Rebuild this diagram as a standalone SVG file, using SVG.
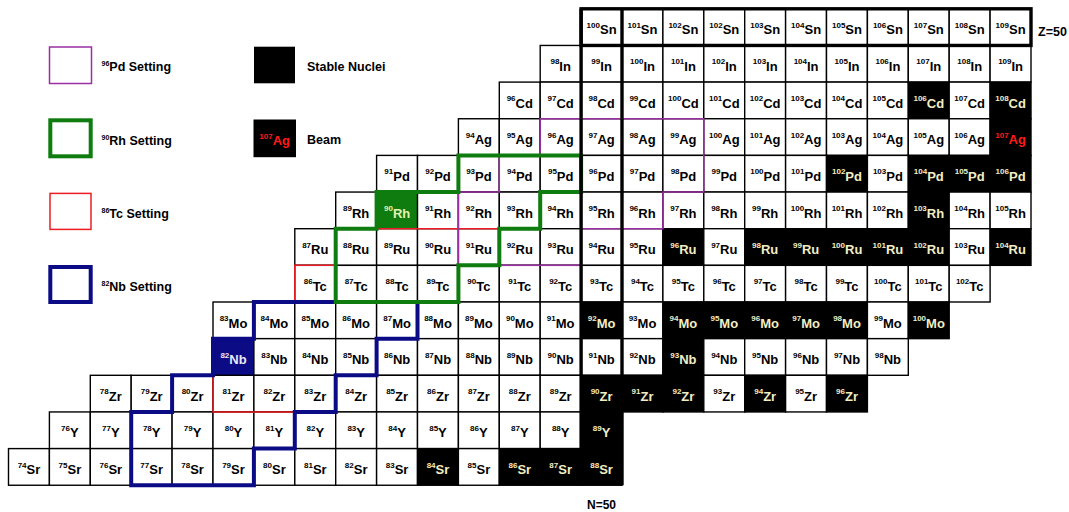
<svg xmlns="http://www.w3.org/2000/svg" width="1069" height="512" viewBox="0 0 1069 512">
<style>
text{font-family:"Liberation Sans",Arial,Helvetica,sans-serif;font-weight:bold}
.row rect{width:40.9px;height:36.65px;fill:#fff;stroke:#000;stroke-width:1.4}
.row text{font-size:13px;text-anchor:middle;fill:#000}
.row tspan:first-child{font-size:8px}
.row .s rect{fill:#000}
.row .s text{fill:#f2eec4}
.row .r text{fill:#ff1a1a}
.row .g rect{fill:#0e7c0e;stroke:#0e7c0e}
.row .g text{fill:#e4f0b4}
.row .b rect{fill:#0b0b86;stroke:#0b0b86}
.row .b text{fill:#e8e8f4}
.leg text{font-size:12.5px;fill:#000}
.leg tspan:first-child{font-size:7px}
.leg .beam{font-size:13px;fill:#ff1a1a;text-anchor:middle}
.leg .beam tspan:first-child{font-size:8px}
.ln{fill:none;stroke-linejoin:miter}
.pd{stroke:#9b2fa3;stroke-width:1.5}
.rh{stroke:#0e7c0e;stroke-width:4}
.tc{stroke:#ee1c24;stroke-width:1.5}
.nb{stroke:#0b0b86;stroke-width:4}
.mag{fill:none;stroke:#000;stroke-width:3.4}
</style>

<!-- legend -->
<g class="leg">
  <g id="leg-pd"><rect class="ln pd" x="49.5" y="47" width="42" height="36.5"/><text x="101.5" y="70.5"><tspan dy="-5">96</tspan><tspan dy="5">Pd Setting</tspan></text></g>
  <g id="leg-rh"><rect class="ln rh" x="50.3" y="120.3" width="40.4" height="36"/><text x="101.5" y="144.5"><tspan dy="-5">90</tspan><tspan dy="5">Rh Setting</tspan></text></g>
  <g id="leg-tc"><rect class="ln tc" x="50" y="193.4" width="41" height="36"/><text x="101.5" y="217.5"><tspan dy="-5">86</tspan><tspan dy="5">Tc Setting</tspan></text></g>
  <g id="leg-nb"><rect class="ln nb" x="50.3" y="267" width="40.4" height="35"/><text x="101.5" y="290.5"><tspan dy="-5">82</tspan><tspan dy="5">Nb Setting</tspan></text></g>
  <g id="leg-stable"><rect x="254" y="46.7" width="41" height="36.6" fill="#000"/><text x="307" y="71">Stable Nuclei</text></g>
  <g id="leg-beam"><rect x="253.5" y="119.5" width="42.5" height="37.7" fill="#000"/><text class="beam" x="274.7" y="145"><tspan dy="-6.5">107</tspan><tspan dy="6.5">Ag</tspan></text><text x="307" y="144">Beam</text></g>
</g>

<!-- chart of nuclides, one row per element -->
<g id="row-Sn" class="row" transform="translate(0 8.8)">
<g id="Sn100" transform="translate(581.1)"><rect/><text x="20.5" y="25.5"><tspan dy="-6.5">100</tspan><tspan dy="6.5">Sn</tspan></text></g>
<g id="Sn101" transform="translate(622)"><rect/><text x="20.5" y="25.5"><tspan dy="-6.5">101</tspan><tspan dy="6.5">Sn</tspan></text></g>
<g id="Sn102" transform="translate(662.9)"><rect/><text x="20.5" y="25.5"><tspan dy="-6.5">102</tspan><tspan dy="6.5">Sn</tspan></text></g>
<g id="Sn102b" transform="translate(703.8)"><rect/><text x="20.5" y="25.5"><tspan dy="-6.5">102</tspan><tspan dy="6.5">Sn</tspan></text></g>
<g id="Sn103" transform="translate(744.7)"><rect/><text x="20.5" y="25.5"><tspan dy="-6.5">103</tspan><tspan dy="6.5">Sn</tspan></text></g>
<g id="Sn104" transform="translate(785.6)"><rect/><text x="20.5" y="25.5"><tspan dy="-6.5">104</tspan><tspan dy="6.5">Sn</tspan></text></g>
<g id="Sn105" transform="translate(826.5)"><rect/><text x="20.5" y="25.5"><tspan dy="-6.5">105</tspan><tspan dy="6.5">Sn</tspan></text></g>
<g id="Sn106" transform="translate(867.4)"><rect/><text x="20.5" y="25.5"><tspan dy="-6.5">106</tspan><tspan dy="6.5">Sn</tspan></text></g>
<g id="Sn107" transform="translate(908.3)"><rect/><text x="20.5" y="25.5"><tspan dy="-6.5">107</tspan><tspan dy="6.5">Sn</tspan></text></g>
<g id="Sn108" transform="translate(949.2)"><rect/><text x="20.5" y="25.5"><tspan dy="-6.5">108</tspan><tspan dy="6.5">Sn</tspan></text></g>
<g id="Sn109" transform="translate(990.1)"><rect/><text x="20.5" y="25.5"><tspan dy="-6.5">109</tspan><tspan dy="6.5">Sn</tspan></text></g>
</g>

<g id="row-In" class="row" transform="translate(0 45.45)">
<g id="In98" transform="translate(540.2)"><rect/><text x="20.5" y="25.5"><tspan dy="-6.5">98</tspan><tspan dy="6.5">In</tspan></text></g>
<g id="In99" transform="translate(581.1)"><rect/><text x="20.5" y="25.5"><tspan dy="-6.5">99</tspan><tspan dy="6.5">In</tspan></text></g>
<g id="In100" transform="translate(622)"><rect/><text x="20.5" y="25.5"><tspan dy="-6.5">100</tspan><tspan dy="6.5">In</tspan></text></g>
<g id="In101" transform="translate(662.9)"><rect/><text x="20.5" y="25.5"><tspan dy="-6.5">101</tspan><tspan dy="6.5">In</tspan></text></g>
<g id="In102" transform="translate(703.8)"><rect/><text x="20.5" y="25.5"><tspan dy="-6.5">102</tspan><tspan dy="6.5">In</tspan></text></g>
<g id="In103" transform="translate(744.7)"><rect/><text x="20.5" y="25.5"><tspan dy="-6.5">103</tspan><tspan dy="6.5">In</tspan></text></g>
<g id="In104" transform="translate(785.6)"><rect/><text x="20.5" y="25.5"><tspan dy="-6.5">104</tspan><tspan dy="6.5">In</tspan></text></g>
<g id="In105" transform="translate(826.5)"><rect/><text x="20.5" y="25.5"><tspan dy="-6.5">105</tspan><tspan dy="6.5">In</tspan></text></g>
<g id="In106" transform="translate(867.4)"><rect/><text x="20.5" y="25.5"><tspan dy="-6.5">106</tspan><tspan dy="6.5">In</tspan></text></g>
<g id="In107" transform="translate(908.3)"><rect/><text x="20.5" y="25.5"><tspan dy="-6.5">107</tspan><tspan dy="6.5">In</tspan></text></g>
<g id="In108" transform="translate(949.2)"><rect/><text x="20.5" y="25.5"><tspan dy="-6.5">108</tspan><tspan dy="6.5">In</tspan></text></g>
<g id="In109" transform="translate(990.1)"><rect/><text x="20.5" y="25.5"><tspan dy="-6.5">109</tspan><tspan dy="6.5">In</tspan></text></g>
</g>

<g id="row-Cd" class="row" transform="translate(0 82.1)">
<g id="Cd96" transform="translate(499.3)"><rect/><text x="20.5" y="25.5"><tspan dy="-6.5">96</tspan><tspan dy="6.5">Cd</tspan></text></g>
<g id="Cd97" transform="translate(540.2)"><rect/><text x="20.5" y="25.5"><tspan dy="-6.5">97</tspan><tspan dy="6.5">Cd</tspan></text></g>
<g id="Cd98" transform="translate(581.1)"><rect/><text x="20.5" y="25.5"><tspan dy="-6.5">98</tspan><tspan dy="6.5">Cd</tspan></text></g>
<g id="Cd99" transform="translate(622)"><rect/><text x="20.5" y="25.5"><tspan dy="-6.5">99</tspan><tspan dy="6.5">Cd</tspan></text></g>
<g id="Cd100" transform="translate(662.9)"><rect/><text x="20.5" y="25.5"><tspan dy="-6.5">100</tspan><tspan dy="6.5">Cd</tspan></text></g>
<g id="Cd101" transform="translate(703.8)"><rect/><text x="20.5" y="25.5"><tspan dy="-6.5">101</tspan><tspan dy="6.5">Cd</tspan></text></g>
<g id="Cd102" transform="translate(744.7)"><rect/><text x="20.5" y="25.5"><tspan dy="-6.5">102</tspan><tspan dy="6.5">Cd</tspan></text></g>
<g id="Cd103" transform="translate(785.6)"><rect/><text x="20.5" y="25.5"><tspan dy="-6.5">103</tspan><tspan dy="6.5">Cd</tspan></text></g>
<g id="Cd104" transform="translate(826.5)"><rect/><text x="20.5" y="25.5"><tspan dy="-6.5">104</tspan><tspan dy="6.5">Cd</tspan></text></g>
<g id="Cd105" transform="translate(867.4)"><rect/><text x="20.5" y="25.5"><tspan dy="-6.5">105</tspan><tspan dy="6.5">Cd</tspan></text></g>
<g id="Cd106" class="s" transform="translate(908.3)"><rect/><text x="20.5" y="25.5"><tspan dy="-6.5">106</tspan><tspan dy="6.5">Cd</tspan></text></g>
<g id="Cd107" transform="translate(949.2)"><rect/><text x="20.5" y="25.5"><tspan dy="-6.5">107</tspan><tspan dy="6.5">Cd</tspan></text></g>
<g id="Cd108" class="s" transform="translate(990.1)"><rect/><text x="20.5" y="25.5"><tspan dy="-6.5">108</tspan><tspan dy="6.5">Cd</tspan></text></g>
</g>

<g id="row-Ag" class="row" transform="translate(0 118.75)">
<g id="Ag94" transform="translate(458.4)"><rect/><text x="20.5" y="25.5"><tspan dy="-6.5">94</tspan><tspan dy="6.5">Ag</tspan></text></g>
<g id="Ag95" transform="translate(499.3)"><rect/><text x="20.5" y="25.5"><tspan dy="-6.5">95</tspan><tspan dy="6.5">Ag</tspan></text></g>
<g id="Ag96" transform="translate(540.2)"><rect/><text x="20.5" y="25.5"><tspan dy="-6.5">96</tspan><tspan dy="6.5">Ag</tspan></text></g>
<g id="Ag97" transform="translate(581.1)"><rect/><text x="20.5" y="25.5"><tspan dy="-6.5">97</tspan><tspan dy="6.5">Ag</tspan></text></g>
<g id="Ag98" transform="translate(622)"><rect/><text x="20.5" y="25.5"><tspan dy="-6.5">98</tspan><tspan dy="6.5">Ag</tspan></text></g>
<g id="Ag99" transform="translate(662.9)"><rect/><text x="20.5" y="25.5"><tspan dy="-6.5">99</tspan><tspan dy="6.5">Ag</tspan></text></g>
<g id="Ag100" transform="translate(703.8)"><rect/><text x="20.5" y="25.5"><tspan dy="-6.5">100</tspan><tspan dy="6.5">Ag</tspan></text></g>
<g id="Ag101" transform="translate(744.7)"><rect/><text x="20.5" y="25.5"><tspan dy="-6.5">101</tspan><tspan dy="6.5">Ag</tspan></text></g>
<g id="Ag102" transform="translate(785.6)"><rect/><text x="20.5" y="25.5"><tspan dy="-6.5">102</tspan><tspan dy="6.5">Ag</tspan></text></g>
<g id="Ag103" transform="translate(826.5)"><rect/><text x="20.5" y="25.5"><tspan dy="-6.5">103</tspan><tspan dy="6.5">Ag</tspan></text></g>
<g id="Ag104" transform="translate(867.4)"><rect/><text x="20.5" y="25.5"><tspan dy="-6.5">104</tspan><tspan dy="6.5">Ag</tspan></text></g>
<g id="Ag105" transform="translate(908.3)"><rect/><text x="20.5" y="25.5"><tspan dy="-6.5">105</tspan><tspan dy="6.5">Ag</tspan></text></g>
<g id="Ag106" transform="translate(949.2)"><rect/><text x="20.5" y="25.5"><tspan dy="-6.5">106</tspan><tspan dy="6.5">Ag</tspan></text></g>
<g id="Ag107" class="s r" transform="translate(990.1)"><rect/><text x="20.5" y="25.5"><tspan dy="-6.5">107</tspan><tspan dy="6.5">Ag</tspan></text></g>
</g>

<g id="row-Pd" class="row" transform="translate(0 155.4)">
<g id="Pd91" transform="translate(376.6)"><rect/><text x="20.5" y="25.5"><tspan dy="-6.5">91</tspan><tspan dy="6.5">Pd</tspan></text></g>
<g id="Pd92" transform="translate(417.5)"><rect/><text x="20.5" y="25.5"><tspan dy="-6.5">92</tspan><tspan dy="6.5">Pd</tspan></text></g>
<g id="Pd93" transform="translate(458.4)"><rect/><text x="20.5" y="25.5"><tspan dy="-6.5">93</tspan><tspan dy="6.5">Pd</tspan></text></g>
<g id="Pd94" transform="translate(499.3)"><rect/><text x="20.5" y="25.5"><tspan dy="-6.5">94</tspan><tspan dy="6.5">Pd</tspan></text></g>
<g id="Pd95" transform="translate(540.2)"><rect/><text x="20.5" y="25.5"><tspan dy="-6.5">95</tspan><tspan dy="6.5">Pd</tspan></text></g>
<g id="Pd96" transform="translate(581.1)"><rect/><text x="20.5" y="25.5"><tspan dy="-6.5">96</tspan><tspan dy="6.5">Pd</tspan></text></g>
<g id="Pd97" transform="translate(622)"><rect/><text x="20.5" y="25.5"><tspan dy="-6.5">97</tspan><tspan dy="6.5">Pd</tspan></text></g>
<g id="Pd98" transform="translate(662.9)"><rect/><text x="20.5" y="25.5"><tspan dy="-6.5">98</tspan><tspan dy="6.5">Pd</tspan></text></g>
<g id="Pd99" transform="translate(703.8)"><rect/><text x="20.5" y="25.5"><tspan dy="-6.5">99</tspan><tspan dy="6.5">Pd</tspan></text></g>
<g id="Pd100" transform="translate(744.7)"><rect/><text x="20.5" y="25.5"><tspan dy="-6.5">100</tspan><tspan dy="6.5">Pd</tspan></text></g>
<g id="Pd101" transform="translate(785.6)"><rect/><text x="20.5" y="25.5"><tspan dy="-6.5">101</tspan><tspan dy="6.5">Pd</tspan></text></g>
<g id="Pd102" class="s" transform="translate(826.5)"><rect/><text x="20.5" y="25.5"><tspan dy="-6.5">102</tspan><tspan dy="6.5">Pd</tspan></text></g>
<g id="Pd103" transform="translate(867.4)"><rect/><text x="20.5" y="25.5"><tspan dy="-6.5">103</tspan><tspan dy="6.5">Pd</tspan></text></g>
<g id="Pd104" class="s" transform="translate(908.3)"><rect/><text x="20.5" y="25.5"><tspan dy="-6.5">104</tspan><tspan dy="6.5">Pd</tspan></text></g>
<g id="Pd105" class="s" transform="translate(949.2)"><rect/><text x="20.5" y="25.5"><tspan dy="-6.5">105</tspan><tspan dy="6.5">Pd</tspan></text></g>
<g id="Pd106" class="s" transform="translate(990.1)"><rect/><text x="20.5" y="25.5"><tspan dy="-6.5">106</tspan><tspan dy="6.5">Pd</tspan></text></g>
</g>

<g id="row-Rh" class="row" transform="translate(0 192.05)">
<g id="Rh89" transform="translate(335.7)"><rect/><text x="20.5" y="25.5"><tspan dy="-6.5">89</tspan><tspan dy="6.5">Rh</tspan></text></g>
<g id="Rh90" class="g" transform="translate(376.6)"><rect/><text x="20.5" y="25.5"><tspan dy="-6.5">90</tspan><tspan dy="6.5">Rh</tspan></text></g>
<g id="Rh91" transform="translate(417.5)"><rect/><text x="20.5" y="25.5"><tspan dy="-6.5">91</tspan><tspan dy="6.5">Rh</tspan></text></g>
<g id="Rh92" transform="translate(458.4)"><rect/><text x="20.5" y="25.5"><tspan dy="-6.5">92</tspan><tspan dy="6.5">Rh</tspan></text></g>
<g id="Rh93" transform="translate(499.3)"><rect/><text x="20.5" y="25.5"><tspan dy="-6.5">93</tspan><tspan dy="6.5">Rh</tspan></text></g>
<g id="Rh94" transform="translate(540.2)"><rect/><text x="20.5" y="25.5"><tspan dy="-6.5">94</tspan><tspan dy="6.5">Rh</tspan></text></g>
<g id="Rh95" transform="translate(581.1)"><rect/><text x="20.5" y="25.5"><tspan dy="-6.5">95</tspan><tspan dy="6.5">Rh</tspan></text></g>
<g id="Rh96" transform="translate(622)"><rect/><text x="20.5" y="25.5"><tspan dy="-6.5">96</tspan><tspan dy="6.5">Rh</tspan></text></g>
<g id="Rh97" transform="translate(662.9)"><rect/><text x="20.5" y="25.5"><tspan dy="-6.5">97</tspan><tspan dy="6.5">Rh</tspan></text></g>
<g id="Rh98" transform="translate(703.8)"><rect/><text x="20.5" y="25.5"><tspan dy="-6.5">98</tspan><tspan dy="6.5">Rh</tspan></text></g>
<g id="Rh99" transform="translate(744.7)"><rect/><text x="20.5" y="25.5"><tspan dy="-6.5">99</tspan><tspan dy="6.5">Rh</tspan></text></g>
<g id="Rh100" transform="translate(785.6)"><rect/><text x="20.5" y="25.5"><tspan dy="-6.5">100</tspan><tspan dy="6.5">Rh</tspan></text></g>
<g id="Rh101" transform="translate(826.5)"><rect/><text x="20.5" y="25.5"><tspan dy="-6.5">101</tspan><tspan dy="6.5">Rh</tspan></text></g>
<g id="Rh102" transform="translate(867.4)"><rect/><text x="20.5" y="25.5"><tspan dy="-6.5">102</tspan><tspan dy="6.5">Rh</tspan></text></g>
<g id="Rh103" class="s" transform="translate(908.3)"><rect/><text x="20.5" y="25.5"><tspan dy="-6.5">103</tspan><tspan dy="6.5">Rh</tspan></text></g>
<g id="Rh104" transform="translate(949.2)"><rect/><text x="20.5" y="25.5"><tspan dy="-6.5">104</tspan><tspan dy="6.5">Rh</tspan></text></g>
<g id="Rh105" transform="translate(990.1)"><rect/><text x="20.5" y="25.5"><tspan dy="-6.5">105</tspan><tspan dy="6.5">Rh</tspan></text></g>
</g>

<g id="row-Ru" class="row" transform="translate(0 228.7)">
<g id="Ru87" transform="translate(294.8)"><rect/><text x="20.5" y="25.5"><tspan dy="-6.5">87</tspan><tspan dy="6.5">Ru</tspan></text></g>
<g id="Ru88" transform="translate(335.7)"><rect/><text x="20.5" y="25.5"><tspan dy="-6.5">88</tspan><tspan dy="6.5">Ru</tspan></text></g>
<g id="Ru89" transform="translate(376.6)"><rect/><text x="20.5" y="25.5"><tspan dy="-6.5">89</tspan><tspan dy="6.5">Ru</tspan></text></g>
<g id="Ru90" transform="translate(417.5)"><rect/><text x="20.5" y="25.5"><tspan dy="-6.5">90</tspan><tspan dy="6.5">Ru</tspan></text></g>
<g id="Ru91" transform="translate(458.4)"><rect/><text x="20.5" y="25.5"><tspan dy="-6.5">91</tspan><tspan dy="6.5">Ru</tspan></text></g>
<g id="Ru92" transform="translate(499.3)"><rect/><text x="20.5" y="25.5"><tspan dy="-6.5">92</tspan><tspan dy="6.5">Ru</tspan></text></g>
<g id="Ru93" transform="translate(540.2)"><rect/><text x="20.5" y="25.5"><tspan dy="-6.5">93</tspan><tspan dy="6.5">Ru</tspan></text></g>
<g id="Ru94" transform="translate(581.1)"><rect/><text x="20.5" y="25.5"><tspan dy="-6.5">94</tspan><tspan dy="6.5">Ru</tspan></text></g>
<g id="Ru95" transform="translate(622)"><rect/><text x="20.5" y="25.5"><tspan dy="-6.5">95</tspan><tspan dy="6.5">Ru</tspan></text></g>
<g id="Ru96" class="s" transform="translate(662.9)"><rect/><text x="20.5" y="25.5"><tspan dy="-6.5">96</tspan><tspan dy="6.5">Ru</tspan></text></g>
<g id="Ru97" transform="translate(703.8)"><rect/><text x="20.5" y="25.5"><tspan dy="-6.5">97</tspan><tspan dy="6.5">Ru</tspan></text></g>
<g id="Ru98" class="s" transform="translate(744.7)"><rect/><text x="20.5" y="25.5"><tspan dy="-6.5">98</tspan><tspan dy="6.5">Ru</tspan></text></g>
<g id="Ru99" class="s" transform="translate(785.6)"><rect/><text x="20.5" y="25.5"><tspan dy="-6.5">99</tspan><tspan dy="6.5">Ru</tspan></text></g>
<g id="Ru100" class="s" transform="translate(826.5)"><rect/><text x="20.5" y="25.5"><tspan dy="-6.5">100</tspan><tspan dy="6.5">Ru</tspan></text></g>
<g id="Ru101" class="s" transform="translate(867.4)"><rect/><text x="20.5" y="25.5"><tspan dy="-6.5">101</tspan><tspan dy="6.5">Ru</tspan></text></g>
<g id="Ru102" class="s" transform="translate(908.3)"><rect/><text x="20.5" y="25.5"><tspan dy="-6.5">102</tspan><tspan dy="6.5">Ru</tspan></text></g>
<g id="Ru103" transform="translate(949.2)"><rect/><text x="20.5" y="25.5"><tspan dy="-6.5">103</tspan><tspan dy="6.5">Ru</tspan></text></g>
<g id="Ru104" class="s" transform="translate(990.1)"><rect/><text x="20.5" y="25.5"><tspan dy="-6.5">104</tspan><tspan dy="6.5">Ru</tspan></text></g>
</g>

<g id="row-Tc" class="row" transform="translate(0 265.35)">
<g id="Tc86" transform="translate(294.8)"><rect/><text x="20.5" y="25.5"><tspan dy="-6.5">86</tspan><tspan dy="6.5">Tc</tspan></text></g>
<g id="Tc87" transform="translate(335.7)"><rect/><text x="20.5" y="25.5"><tspan dy="-6.5">87</tspan><tspan dy="6.5">Tc</tspan></text></g>
<g id="Tc88" transform="translate(376.6)"><rect/><text x="20.5" y="25.5"><tspan dy="-6.5">88</tspan><tspan dy="6.5">Tc</tspan></text></g>
<g id="Tc89" transform="translate(417.5)"><rect/><text x="20.5" y="25.5"><tspan dy="-6.5">89</tspan><tspan dy="6.5">Tc</tspan></text></g>
<g id="Tc90" transform="translate(458.4)"><rect/><text x="20.5" y="25.5"><tspan dy="-6.5">90</tspan><tspan dy="6.5">Tc</tspan></text></g>
<g id="Tc91" transform="translate(499.3)"><rect/><text x="20.5" y="25.5"><tspan dy="-6.5">91</tspan><tspan dy="6.5">Tc</tspan></text></g>
<g id="Tc92" transform="translate(540.2)"><rect/><text x="20.5" y="25.5"><tspan dy="-6.5">92</tspan><tspan dy="6.5">Tc</tspan></text></g>
<g id="Tc93" transform="translate(581.1)"><rect/><text x="20.5" y="25.5"><tspan dy="-6.5">93</tspan><tspan dy="6.5">Tc</tspan></text></g>
<g id="Tc94" transform="translate(622)"><rect/><text x="20.5" y="25.5"><tspan dy="-6.5">94</tspan><tspan dy="6.5">Tc</tspan></text></g>
<g id="Tc95" transform="translate(662.9)"><rect/><text x="20.5" y="25.5"><tspan dy="-6.5">95</tspan><tspan dy="6.5">Tc</tspan></text></g>
<g id="Tc96" transform="translate(703.8)"><rect/><text x="20.5" y="25.5"><tspan dy="-6.5">96</tspan><tspan dy="6.5">Tc</tspan></text></g>
<g id="Tc97" transform="translate(744.7)"><rect/><text x="20.5" y="25.5"><tspan dy="-6.5">97</tspan><tspan dy="6.5">Tc</tspan></text></g>
<g id="Tc98" transform="translate(785.6)"><rect/><text x="20.5" y="25.5"><tspan dy="-6.5">98</tspan><tspan dy="6.5">Tc</tspan></text></g>
<g id="Tc99" transform="translate(826.5)"><rect/><text x="20.5" y="25.5"><tspan dy="-6.5">99</tspan><tspan dy="6.5">Tc</tspan></text></g>
<g id="Tc100" transform="translate(867.4)"><rect/><text x="20.5" y="25.5"><tspan dy="-6.5">100</tspan><tspan dy="6.5">Tc</tspan></text></g>
<g id="Tc101" transform="translate(908.3)"><rect/><text x="20.5" y="25.5"><tspan dy="-6.5">101</tspan><tspan dy="6.5">Tc</tspan></text></g>
<g id="Tc102" transform="translate(949.2)"><rect/><text x="20.5" y="25.5"><tspan dy="-6.5">102</tspan><tspan dy="6.5">Tc</tspan></text></g>
</g>

<g id="row-Mo" class="row" transform="translate(0 302)">
<g id="Mo83" transform="translate(213)"><rect/><text x="20.5" y="25.5"><tspan dy="-6.5">83</tspan><tspan dy="6.5">Mo</tspan></text></g>
<g id="Mo84" transform="translate(253.9)"><rect/><text x="20.5" y="25.5"><tspan dy="-6.5">84</tspan><tspan dy="6.5">Mo</tspan></text></g>
<g id="Mo85" transform="translate(294.8)"><rect/><text x="20.5" y="25.5"><tspan dy="-6.5">85</tspan><tspan dy="6.5">Mo</tspan></text></g>
<g id="Mo86" transform="translate(335.7)"><rect/><text x="20.5" y="25.5"><tspan dy="-6.5">86</tspan><tspan dy="6.5">Mo</tspan></text></g>
<g id="Mo87" transform="translate(376.6)"><rect/><text x="20.5" y="25.5"><tspan dy="-6.5">87</tspan><tspan dy="6.5">Mo</tspan></text></g>
<g id="Mo88" transform="translate(417.5)"><rect/><text x="20.5" y="25.5"><tspan dy="-6.5">88</tspan><tspan dy="6.5">Mo</tspan></text></g>
<g id="Mo89" transform="translate(458.4)"><rect/><text x="20.5" y="25.5"><tspan dy="-6.5">89</tspan><tspan dy="6.5">Mo</tspan></text></g>
<g id="Mo90" transform="translate(499.3)"><rect/><text x="20.5" y="25.5"><tspan dy="-6.5">90</tspan><tspan dy="6.5">Mo</tspan></text></g>
<g id="Mo91" transform="translate(540.2)"><rect/><text x="20.5" y="25.5"><tspan dy="-6.5">91</tspan><tspan dy="6.5">Mo</tspan></text></g>
<g id="Mo92" class="s" transform="translate(581.1)"><rect/><text x="20.5" y="25.5"><tspan dy="-6.5">92</tspan><tspan dy="6.5">Mo</tspan></text></g>
<g id="Mo93" transform="translate(622)"><rect/><text x="20.5" y="25.5"><tspan dy="-6.5">93</tspan><tspan dy="6.5">Mo</tspan></text></g>
<g id="Mo94" class="s" transform="translate(662.9)"><rect/><text x="20.5" y="25.5"><tspan dy="-6.5">94</tspan><tspan dy="6.5">Mo</tspan></text></g>
<g id="Mo95" class="s" transform="translate(703.8)"><rect/><text x="20.5" y="25.5"><tspan dy="-6.5">95</tspan><tspan dy="6.5">Mo</tspan></text></g>
<g id="Mo96" class="s" transform="translate(744.7)"><rect/><text x="20.5" y="25.5"><tspan dy="-6.5">96</tspan><tspan dy="6.5">Mo</tspan></text></g>
<g id="Mo97" class="s" transform="translate(785.6)"><rect/><text x="20.5" y="25.5"><tspan dy="-6.5">97</tspan><tspan dy="6.5">Mo</tspan></text></g>
<g id="Mo98" class="s" transform="translate(826.5)"><rect/><text x="20.5" y="25.5"><tspan dy="-6.5">98</tspan><tspan dy="6.5">Mo</tspan></text></g>
<g id="Mo99" transform="translate(867.4)"><rect/><text x="20.5" y="25.5"><tspan dy="-6.5">99</tspan><tspan dy="6.5">Mo</tspan></text></g>
<g id="Mo100" class="s" transform="translate(908.3)"><rect/><text x="20.5" y="25.5"><tspan dy="-6.5">100</tspan><tspan dy="6.5">Mo</tspan></text></g>
</g>

<g id="row-Nb" class="row" transform="translate(0 338.65)">
<g id="Nb82" class="b" transform="translate(213)"><rect/><text x="20.5" y="25.5"><tspan dy="-6.5">82</tspan><tspan dy="6.5">Nb</tspan></text></g>
<g id="Nb83" transform="translate(253.9)"><rect/><text x="20.5" y="25.5"><tspan dy="-6.5">83</tspan><tspan dy="6.5">Nb</tspan></text></g>
<g id="Nb84" transform="translate(294.8)"><rect/><text x="20.5" y="25.5"><tspan dy="-6.5">84</tspan><tspan dy="6.5">Nb</tspan></text></g>
<g id="Nb85" transform="translate(335.7)"><rect/><text x="20.5" y="25.5"><tspan dy="-6.5">85</tspan><tspan dy="6.5">Nb</tspan></text></g>
<g id="Nb86" transform="translate(376.6)"><rect/><text x="20.5" y="25.5"><tspan dy="-6.5">86</tspan><tspan dy="6.5">Nb</tspan></text></g>
<g id="Nb87" transform="translate(417.5)"><rect/><text x="20.5" y="25.5"><tspan dy="-6.5">87</tspan><tspan dy="6.5">Nb</tspan></text></g>
<g id="Nb88" transform="translate(458.4)"><rect/><text x="20.5" y="25.5"><tspan dy="-6.5">88</tspan><tspan dy="6.5">Nb</tspan></text></g>
<g id="Nb89" transform="translate(499.3)"><rect/><text x="20.5" y="25.5"><tspan dy="-6.5">89</tspan><tspan dy="6.5">Nb</tspan></text></g>
<g id="Nb90" transform="translate(540.2)"><rect/><text x="20.5" y="25.5"><tspan dy="-6.5">90</tspan><tspan dy="6.5">Nb</tspan></text></g>
<g id="Nb91" transform="translate(581.1)"><rect/><text x="20.5" y="25.5"><tspan dy="-6.5">91</tspan><tspan dy="6.5">Nb</tspan></text></g>
<g id="Nb92" transform="translate(622)"><rect/><text x="20.5" y="25.5"><tspan dy="-6.5">92</tspan><tspan dy="6.5">Nb</tspan></text></g>
<g id="Nb93" class="s" transform="translate(662.9)"><rect/><text x="20.5" y="25.5"><tspan dy="-6.5">93</tspan><tspan dy="6.5">Nb</tspan></text></g>
<g id="Nb94" transform="translate(703.8)"><rect/><text x="20.5" y="25.5"><tspan dy="-6.5">94</tspan><tspan dy="6.5">Nb</tspan></text></g>
<g id="Nb95" transform="translate(744.7)"><rect/><text x="20.5" y="25.5"><tspan dy="-6.5">95</tspan><tspan dy="6.5">Nb</tspan></text></g>
<g id="Nb96" transform="translate(785.6)"><rect/><text x="20.5" y="25.5"><tspan dy="-6.5">96</tspan><tspan dy="6.5">Nb</tspan></text></g>
<g id="Nb97" transform="translate(826.5)"><rect/><text x="20.5" y="25.5"><tspan dy="-6.5">97</tspan><tspan dy="6.5">Nb</tspan></text></g>
<g id="Nb98" transform="translate(867.4)"><rect/><text x="20.5" y="25.5"><tspan dy="-6.5">98</tspan><tspan dy="6.5">Nb</tspan></text></g>
</g>

<g id="row-Zr" class="row" transform="translate(0 375.3)">
<g id="Zr78" transform="translate(90.3)"><rect/><text x="20.5" y="25.5"><tspan dy="-6.5">78</tspan><tspan dy="6.5">Zr</tspan></text></g>
<g id="Zr79" transform="translate(131.2)"><rect/><text x="20.5" y="25.5"><tspan dy="-6.5">79</tspan><tspan dy="6.5">Zr</tspan></text></g>
<g id="Zr80" transform="translate(172.1)"><rect/><text x="20.5" y="25.5"><tspan dy="-6.5">80</tspan><tspan dy="6.5">Zr</tspan></text></g>
<g id="Zr81" transform="translate(213)"><rect/><text x="20.5" y="25.5"><tspan dy="-6.5">81</tspan><tspan dy="6.5">Zr</tspan></text></g>
<g id="Zr82" transform="translate(253.9)"><rect/><text x="20.5" y="25.5"><tspan dy="-6.5">82</tspan><tspan dy="6.5">Zr</tspan></text></g>
<g id="Zr83" transform="translate(294.8)"><rect/><text x="20.5" y="25.5"><tspan dy="-6.5">83</tspan><tspan dy="6.5">Zr</tspan></text></g>
<g id="Zr84" transform="translate(335.7)"><rect/><text x="20.5" y="25.5"><tspan dy="-6.5">84</tspan><tspan dy="6.5">Zr</tspan></text></g>
<g id="Zr85" transform="translate(376.6)"><rect/><text x="20.5" y="25.5"><tspan dy="-6.5">85</tspan><tspan dy="6.5">Zr</tspan></text></g>
<g id="Zr86" transform="translate(417.5)"><rect/><text x="20.5" y="25.5"><tspan dy="-6.5">86</tspan><tspan dy="6.5">Zr</tspan></text></g>
<g id="Zr87" transform="translate(458.4)"><rect/><text x="20.5" y="25.5"><tspan dy="-6.5">87</tspan><tspan dy="6.5">Zr</tspan></text></g>
<g id="Zr88" transform="translate(499.3)"><rect/><text x="20.5" y="25.5"><tspan dy="-6.5">88</tspan><tspan dy="6.5">Zr</tspan></text></g>
<g id="Zr89" transform="translate(540.2)"><rect/><text x="20.5" y="25.5"><tspan dy="-6.5">89</tspan><tspan dy="6.5">Zr</tspan></text></g>
<g id="Zr90" class="s" transform="translate(581.1)"><rect/><text x="20.5" y="25.5"><tspan dy="-6.5">90</tspan><tspan dy="6.5">Zr</tspan></text></g>
<g id="Zr91" class="s" transform="translate(622)"><rect/><text x="20.5" y="25.5"><tspan dy="-6.5">91</tspan><tspan dy="6.5">Zr</tspan></text></g>
<g id="Zr92" class="s" transform="translate(662.9)"><rect/><text x="20.5" y="25.5"><tspan dy="-6.5">92</tspan><tspan dy="6.5">Zr</tspan></text></g>
<g id="Zr93" transform="translate(703.8)"><rect/><text x="20.5" y="25.5"><tspan dy="-6.5">93</tspan><tspan dy="6.5">Zr</tspan></text></g>
<g id="Zr94" class="s" transform="translate(744.7)"><rect/><text x="20.5" y="25.5"><tspan dy="-6.5">94</tspan><tspan dy="6.5">Zr</tspan></text></g>
<g id="Zr95" transform="translate(785.6)"><rect/><text x="20.5" y="25.5"><tspan dy="-6.5">95</tspan><tspan dy="6.5">Zr</tspan></text></g>
<g id="Zr96" class="s" transform="translate(826.5)"><rect/><text x="20.5" y="25.5"><tspan dy="-6.5">96</tspan><tspan dy="6.5">Zr</tspan></text></g>
</g>

<g id="row-Y" class="row" transform="translate(0 411.95)">
<g id="Y76" transform="translate(49.4)"><rect/><text x="20.5" y="25.5"><tspan dy="-6.5">76</tspan><tspan dy="6.5">Y</tspan></text></g>
<g id="Y77" transform="translate(90.3)"><rect/><text x="20.5" y="25.5"><tspan dy="-6.5">77</tspan><tspan dy="6.5">Y</tspan></text></g>
<g id="Y78" transform="translate(131.2)"><rect/><text x="20.5" y="25.5"><tspan dy="-6.5">78</tspan><tspan dy="6.5">Y</tspan></text></g>
<g id="Y79" transform="translate(172.1)"><rect/><text x="20.5" y="25.5"><tspan dy="-6.5">79</tspan><tspan dy="6.5">Y</tspan></text></g>
<g id="Y80" transform="translate(213)"><rect/><text x="20.5" y="25.5"><tspan dy="-6.5">80</tspan><tspan dy="6.5">Y</tspan></text></g>
<g id="Y81" transform="translate(253.9)"><rect/><text x="20.5" y="25.5"><tspan dy="-6.5">81</tspan><tspan dy="6.5">Y</tspan></text></g>
<g id="Y82" transform="translate(294.8)"><rect/><text x="20.5" y="25.5"><tspan dy="-6.5">82</tspan><tspan dy="6.5">Y</tspan></text></g>
<g id="Y83" transform="translate(335.7)"><rect/><text x="20.5" y="25.5"><tspan dy="-6.5">83</tspan><tspan dy="6.5">Y</tspan></text></g>
<g id="Y84" transform="translate(376.6)"><rect/><text x="20.5" y="25.5"><tspan dy="-6.5">84</tspan><tspan dy="6.5">Y</tspan></text></g>
<g id="Y85" transform="translate(417.5)"><rect/><text x="20.5" y="25.5"><tspan dy="-6.5">85</tspan><tspan dy="6.5">Y</tspan></text></g>
<g id="Y86" transform="translate(458.4)"><rect/><text x="20.5" y="25.5"><tspan dy="-6.5">86</tspan><tspan dy="6.5">Y</tspan></text></g>
<g id="Y87" transform="translate(499.3)"><rect/><text x="20.5" y="25.5"><tspan dy="-6.5">87</tspan><tspan dy="6.5">Y</tspan></text></g>
<g id="Y88" transform="translate(540.2)"><rect/><text x="20.5" y="25.5"><tspan dy="-6.5">88</tspan><tspan dy="6.5">Y</tspan></text></g>
<g id="Y89" class="s" transform="translate(581.1)"><rect/><text x="20.5" y="25.5"><tspan dy="-6.5">89</tspan><tspan dy="6.5">Y</tspan></text></g>
</g>

<g id="row-Sr" class="row" transform="translate(0 448.6)">
<g id="Sr74" transform="translate(8.5)"><rect/><text x="20.5" y="25.5"><tspan dy="-6.5">74</tspan><tspan dy="6.5">Sr</tspan></text></g>
<g id="Sr75" transform="translate(49.4)"><rect/><text x="20.5" y="25.5"><tspan dy="-6.5">75</tspan><tspan dy="6.5">Sr</tspan></text></g>
<g id="Sr76" transform="translate(90.3)"><rect/><text x="20.5" y="25.5"><tspan dy="-6.5">76</tspan><tspan dy="6.5">Sr</tspan></text></g>
<g id="Sr77" transform="translate(131.2)"><rect/><text x="20.5" y="25.5"><tspan dy="-6.5">77</tspan><tspan dy="6.5">Sr</tspan></text></g>
<g id="Sr78" transform="translate(172.1)"><rect/><text x="20.5" y="25.5"><tspan dy="-6.5">78</tspan><tspan dy="6.5">Sr</tspan></text></g>
<g id="Sr79" transform="translate(213)"><rect/><text x="20.5" y="25.5"><tspan dy="-6.5">79</tspan><tspan dy="6.5">Sr</tspan></text></g>
<g id="Sr80" transform="translate(253.9)"><rect/><text x="20.5" y="25.5"><tspan dy="-6.5">80</tspan><tspan dy="6.5">Sr</tspan></text></g>
<g id="Sr81" transform="translate(294.8)"><rect/><text x="20.5" y="25.5"><tspan dy="-6.5">81</tspan><tspan dy="6.5">Sr</tspan></text></g>
<g id="Sr82" transform="translate(335.7)"><rect/><text x="20.5" y="25.5"><tspan dy="-6.5">82</tspan><tspan dy="6.5">Sr</tspan></text></g>
<g id="Sr83" transform="translate(376.6)"><rect/><text x="20.5" y="25.5"><tspan dy="-6.5">83</tspan><tspan dy="6.5">Sr</tspan></text></g>
<g id="Sr84" class="s" transform="translate(417.5)"><rect/><text x="20.5" y="25.5"><tspan dy="-6.5">84</tspan><tspan dy="6.5">Sr</tspan></text></g>
<g id="Sr85" transform="translate(458.4)"><rect/><text x="20.5" y="25.5"><tspan dy="-6.5">85</tspan><tspan dy="6.5">Sr</tspan></text></g>
<g id="Sr86" class="s" transform="translate(499.3)"><rect/><text x="20.5" y="25.5"><tspan dy="-6.5">86</tspan><tspan dy="6.5">Sr</tspan></text></g>
<g id="Sr87" class="s" transform="translate(540.2)"><rect/><text x="20.5" y="25.5"><tspan dy="-6.5">87</tspan><tspan dy="6.5">Sr</tspan></text></g>
<g id="Sr88" class="s" transform="translate(581.1)"><rect/><text x="20.5" y="25.5"><tspan dy="-6.5">88</tspan><tspan dy="6.5">Sr</tspan></text></g>
</g>

<!-- separator acceptance outlines for each spectrometer setting -->
<g id="settings">
  <path id="set-tc" class="ln tc" d="M335.7 228.7H499.3V265.35H458.4V302H417.5V338.65H376.6V375.3H335.7V411.95H213V338.65H253.9V302H294.8V265.35H335.7Z"/>
  <path id="set-pd" class="ln pd" d="M540.2 118.75H703.8V192.05H662.9V228.7H581.1V265.35H458.4V192.05H499.3V155.4H540.2Z"/>
  <path id="set-nb" class="ln nb" d="M131.2 485.25V411.95H172.1V375.3H213V338.65H253.9V302H417.5V338.65H376.6V375.3H335.7V411.95H294.8V448.6H253.9V485.25Z"/>
  <path id="set-rh" class="ln rh" d="M458.4 155.4H581.1V192.05H540.2V228.7H499.3V265.35H458.4V302H335.7V228.7H376.6V192.05H458.4Z"/>
</g>

<!-- closed shells: Z=50 row and N=50 column -->
<g id="shells">
  <path class="mag" d="M581.1 8.8V485.25M622 8.8V485.25"/>
  <rect class="mag" x="581.1" y="8.8" width="449.9" height="36.65"/>
  <text x="1038" y="35.5" style="font-size:12.5px">Z=50</text>
  <text x="601.5" y="509" text-anchor="middle" style="font-size:12px">N=50</text>
</g>
</svg>
